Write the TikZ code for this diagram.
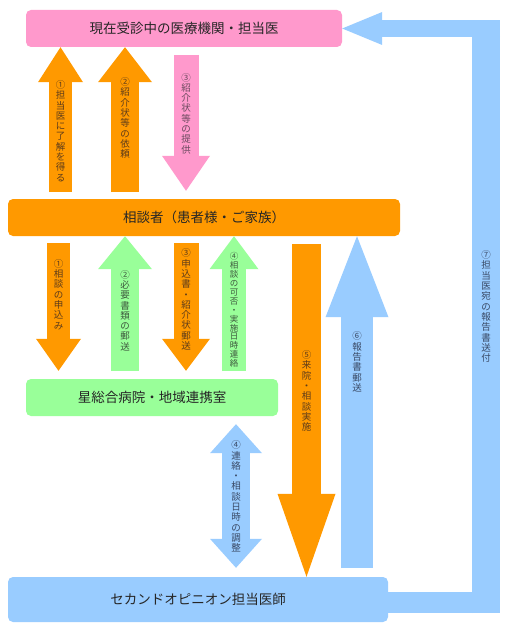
\documentclass[tikz,border=0pt]{standalone}
\usepackage{fontspec}
\setmainfont{Noto Sans CJK JP}
\usetikzlibrary{arrows.meta}

\definecolor{pinkbox}{HTML}{FF99CC}
\definecolor{orangebox}{HTML}{FF9900}
\definecolor{greenbox}{HTML}{99FF99}
\definecolor{bluebox}{HTML}{99CCFF}
\definecolor{pinktxt}{HTML}{6A4A5E}
\definecolor{orangetxt}{HTML}{5E3C1A}
\definecolor{greentxt}{HTML}{3E5A3E}
\definecolor{bluetxt}{HTML}{3A4A66}

\tikzset{
  box/.style={rounded corners=5pt, inner sep=0pt, text=black!85,
    font=\fontsize{13.5}{15}\selectfont},
  lbl/.style={align=center, inner sep=0pt, font=\fontsize{9.5}{10.3}\selectfont},
  smalllbl/.style={align=center, inner sep=0pt, font=\fontsize{8.5}{8.9}\selectfont},
  blk/.style n args={3}{line width=#1,
    -{Triangle[width=#2,length=#3,line width=0pt]}},
  dblk/.style n args={3}{line width=#1,
    {Triangle[width=#2,length=#3,line width=0pt]}-{Triangle[width=#2,length=#3,line width=0pt]}},
}

\begin{document}
\begin{tikzpicture}[x=1pt,y=-1pt]
  \useasboundingbox[fill=white] (0,0) rectangle (510,639);

  % boxes
  \node[box, fill=pinkbox, minimum width=316pt, minimum height=37pt] (iryo) at (184,28.5)
    {現在受診中の医療機関・担当医};
  \node[box, fill=orangebox, minimum width=392pt, minimum height=37pt] (soudan) at (204,217.5)
    {相談者（患者様・ご家族）};
  \node[box, fill=greenbox, minimum width=252pt, minimum height=37pt] (hoshi) at (152,397.5)
    {星総合病院・地域連携室};
  \node[box, fill=bluebox, minimum width=380pt, minimum height=45pt] (second) at (198,599.5)
    {セカンドオピニオン担当医師};

  % upper arrows
  \coordinate (a1) at (60.5,192);
  \draw[orangebox, blk={23pt}{45pt}{35pt}] (a1) -- (a1 |- iryo.south);
  \coordinate (a2) at (125,192);
  \draw[orangebox, blk={28pt}{54pt}{35pt}] (a2) -- (a2 |- iryo.south);
  \coordinate (a3) at (186,55);
  \draw[pinkbox, blk={25pt}{48pt}{35pt}, shorten >=8pt] (a3) -- (a3 |- soudan.north);

  % middle arrows
  \coordinate (b1) at (58.5,243);
  \draw[orangebox, blk={23pt}{45pt}{32pt}, shorten >=8pt] (b1) -- (b1 |- hoshi.north);
  \coordinate (b2) at (125,371);
  \draw[greenbox, blk={28pt}{54pt}{33pt}] (b2) -- (b2 |- soudan.south);
  \coordinate (b3) at (186,243);
  \draw[orangebox, blk={25pt}{48pt}{32pt}, shorten >=8pt] (b3) -- (b3 |- hoshi.north);
  \coordinate (b4) at (234,371);
  \draw[greenbox, blk={24pt}{49pt}{33pt}] (b4) -- (b4 |- soudan.south);
  \coordinate (b5) at (306.5,244);
  \draw[orangebox, blk={29pt}{58pt}{83pt}] (b5) -- (b5 |- second.north);
  \coordinate (b6) at (357,568);
  \draw[bluebox, blk={32pt}{63pt}{81pt}] (b6) -- (b6 |- soudan.south);

  % lower arrow
  \coordinate (c4) at (236,500);
  \draw[bluebox, dblk={28pt}{52pt}{29pt}, shorten <=8pt, shorten >=9pt]
    (c4 |- hoshi.south) -- (c4 |- second.north);

  % report back to the doctor
  \coordinate (r1) at (486,613);
  \coordinate (r2) at (486,20);
  \draw[bluebox, line width=21pt] (second.east |- 0,602.5) -- (500,602.5);
  \draw[bluebox, line width=28pt] (r1) -- (r2);
  \draw[bluebox, blk={17pt}{33pt}{40pt}] (500,28.5) -- (iryo.east);

  % labels
  \node[lbl, text=orangetxt] (l1) at (60.5,131) {①\\担\\当\\医\\に\\了\\解\\を\\得\\る};
  \node[lbl, text=orangetxt] (l2) at (125,118) {②\\紹\\介\\状\\等\\の\\依\\頼};
  \node[lbl, text=pinktxt] (l3) at (186,113.5) {③\\紹\\介\\状\\等\\の\\提\\供};
  \node[lbl, text=orangetxt] (m1) at (58.5,294.5) {①\\相\\談\\の\\申\\込\\み};
  \node[lbl, text=greentxt] (m2) at (125,310.5) {②\\必\\要\\書\\類\\の\\郵\\送};
  \node[lbl, text=orangetxt] (m3) at (186,299.5) {③\\申\\込\\書\\・\\紹\\介\\状\\郵\\送};
  \node[smalllbl, text=greentxt] (m4) at (234,310) {④\\相\\談\\の\\可\\否\\・\\実\\施\\日\\時\\連\\絡};
  \node[lbl, text=orangetxt] (m5) at (306.5,391) {⑤\\来\\院\\・\\相\\談\\実\\施};
  \node[lbl, text=bluetxt] (m6) at (357,362) {⑥\\報\\告\\書\\郵\\送};
  \node[lbl, text=bluetxt] (m7) at (486,306.5) {⑦\\担\\当\\医\\宛\\の\\報\\告\\書\\送\\付};
  \node[lbl, text=bluetxt] (n4) at (236,496.5) {④\\連\\絡\\・\\相\\談\\日\\時\\の\\調\\整};
\end{tikzpicture}
\end{document}
